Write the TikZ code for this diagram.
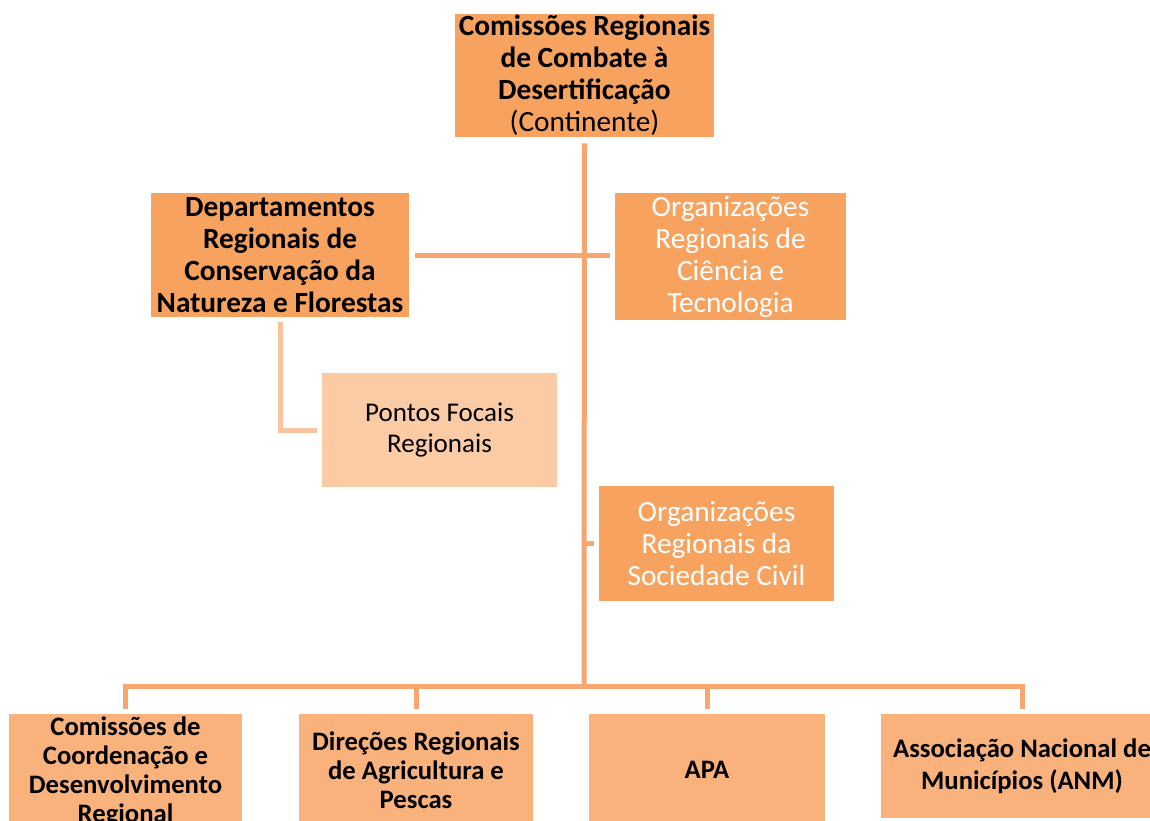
\documentclass[tikz,border=0pt]{standalone}
\usepackage{fontspec}
\setmainfont{Carlito}
\definecolor{boxA}{HTML}{F7A35F}
\definecolor{boxB}{HTML}{F9B27C}
\definecolor{boxC}{HTML}{FACBA4}
\definecolor{lineA}{HTML}{F6A66E}
\definecolor{lineC}{HTML}{FBC4A1}
\tikzset{
  box/.style={fill=boxA, inner sep=0pt, align=center, font=\fontsize{22}{24}\selectfont},
  bbox/.style={fill=boxB, inner sep=0pt, align=center, font=\fontsize{20}{21.8}\selectfont\bfseries},
  conn/.style={draw=lineA, line width=3.75pt},
  lconn/.style={draw=lineC, line width=3.75pt},
}
\begin{document}
\begin{tikzpicture}[x=0.75pt,y=-0.75pt]
\useasboundingbox (0,0) rectangle (1150,821);
\clip (0,0) rectangle (1150,821);
\fill[white] (0,0) rectangle (1150,821);
% nodes
\node[box, minimum width=259*0.75pt, minimum height=123*0.75pt] (top) at (584.5,75.5)
  {\textbf{Comissões Regionais}\\\textbf{de Combate à}\\\textbf{Desertificação}\\(Continente)};
\node[box, font=\fontsize{22}{24}\selectfont\bfseries, minimum width=258*0.75pt, minimum height=124*0.75pt] (dept) at (280,255)
  {Departamentos\\Regionais de\\Conservação da\\Natureza e Florestas};
\node[box, text=white, minimum width=231*0.75pt, minimum height=127*0.75pt] (orgct) at (730.5,256.5)
  {Organizações\\Regionais de\\Ciência e\\Tecnologia};
\node[box, fill=boxC, font=\fontsize{20.3}{23.3}\selectfont, minimum width=235*0.75pt, minimum height=114*0.75pt] (pontos) at (439.5,430)
  {Pontos Focais\\Regionais};
\node[box, text=white, minimum width=235*0.75pt, minimum height=115*0.75pt] (orgsc) at (716.5,543.5)
  {Organizações\\Regionais da\\Sociedade Civil};
\node[bbox, minimum width=233*0.75pt, minimum height=116*0.75pt] (ccdr) at (125.5,772)
  {Comissões de\\Coordenação e\\Desenvolvimento\\Regional};
\node[bbox, minimum width=234*0.75pt, minimum height=112*0.75pt] (dir) at (416,770)
  {Direções Regionais\\de Agricultura e\\Pescas};
\node[bbox, minimum width=236*0.75pt, minimum height=112*0.75pt] (apa) at (707,770)
  {APA};
\node[bbox, font=\fontsize{20}{24}\selectfont\bfseries, minimum width=282*0.75pt, minimum height=104*0.75pt] (anm) at (1022,766)
  {Associação Nacional de\\Municípios (ANM)};
% connectors
\coordinate (bus) at (584,686);
\draw[conn] ([yshift=-4.5pt]top.south) -- (bus);
\draw[conn] ([xshift=4.5pt]dept.east) -- ([xshift=-3.75pt]orgct.west |- dept.east);
\draw[conn] (bus |- orgsc.west) -- ([xshift=-3.75pt]orgsc.west);
\draw[lconn] ([yshift=-3.75pt]dept.south) -- (dept.south |- pontos.west) -- ([xshift=-3.75pt]pontos.west);
\draw[conn] ([yshift=3.75pt]dir.north -| ccdr.north) -- (ccdr.north |- bus) -- (anm.north |- bus) -- ([yshift=3.75pt]anm.north);
\draw[conn] ([yshift=3.75pt]dir.north) -- (dir.north |- bus);
\draw[conn] ([yshift=3.75pt]apa.north) -- (apa.north |- bus);
\end{tikzpicture}
\end{document}
